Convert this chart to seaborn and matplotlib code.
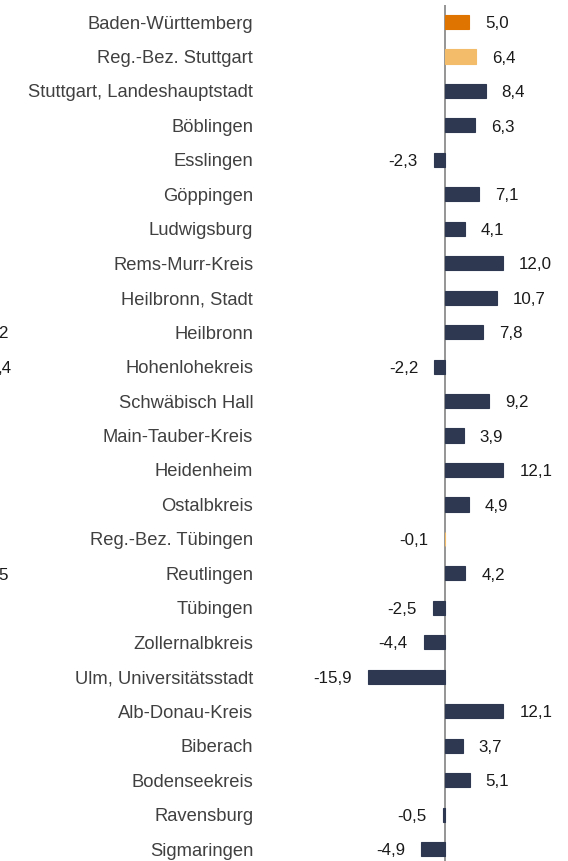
import matplotlib
matplotlib.use("Agg")
import matplotlib.pyplot as plt
import seaborn as sns
import pandas as pd

regions = [
    "Baden-Württemberg", "Reg.-Bez. Stuttgart", "Stuttgart, Landeshauptstadt",
    "Böblingen", "Esslingen", "Göppingen", "Ludwigsburg", "Rems-Murr-Kreis",
    "Heilbronn, Stadt", "Heilbronn", "Hohenlohekreis", "Schwäbisch Hall",
    "Main-Tauber-Kreis", "Heidenheim", "Ostalbkreis", "Reg.-Bez. Tübingen",
    "Reutlingen", "Tübingen", "Zollernalbkreis", "Ulm, Universitätsstadt",
    "Alb-Donau-Kreis", "Biberach", "Bodenseekreis", "Ravensburg", "Sigmaringen",
]
change = [
    5.0, 6.4, 8.4, 6.3, -2.3, 7.1, 4.1, 12.0, 10.7, 7.8, -2.2, 9.2, 3.9,
    12.1, 4.9, -0.1, 4.2, -2.5, -4.4, -15.9, 12.1, 3.7, 5.1, -0.5, -4.9,
]
level = [
    "Land", "Bezirk", "Kreis", "Kreis", "Kreis", "Kreis", "Kreis", "Kreis",
    "Kreis", "Kreis", "Kreis", "Kreis", "Kreis", "Kreis", "Kreis", "Bezirk",
    "Kreis", "Kreis", "Kreis", "Kreis", "Kreis", "Kreis", "Kreis", "Kreis", "Kreis",
]
# tails of value labels from the neighbouring panel, cut at the left edge
edge_fragments = ["2", ",4", "5"]
edge_rows = [9, 10, 16]

level_colors = {"Land": "#E07400", "Bezirk": "#F2BC6A", "Kreis": "#2E3850"}

df = pd.DataFrame({"region": regions, "change": change, "level": level})

sns.set_theme(style="white")
plt.rcParams["font.family"] = ["Liberation Sans", "DejaVu Sans"]

W, H = 568, 861
fig = plt.figure(figsize=(W / 100, H / 100), dpi=100)

px_per_unit = 4.83
zero_px = 445
ax_left_px, ax_right_px = 258, 562
ax = fig.add_axes([ax_left_px / W, 0, (ax_right_px - ax_left_px) / W, 1])

sns.barplot(
    data=df, x="change", y="region", hue="level", palette=level_colors,
    orient="h", width=0.41, legend=False, ax=ax, saturation=1,
)
# outline each bar in its own colour so that very small values stay visible
for p in ax.patches:
    p.set_edgecolor(p.get_facecolor())
    p.set_linewidth(0.8)
    p.set_zorder(4)

n = len(regions)
row_px = 34.46
first_row_px = 22
ax.set_xlim(-(zero_px - ax_left_px) / px_per_unit,
            (ax_right_px - zero_px) / px_per_unit)
ax.set_ylim(n - 1 + (H - (first_row_px + (n - 1) * row_px)) / row_px,
            -first_row_px / row_px)

for s in ax.spines.values():
    s.set_visible(False)
ax.vlines(0, -0.5, ax.get_ylim()[0], color="#8C8C8C", lw=1.3, zorder=3)

ax.set_xlabel("")
ax.set_ylabel("")
ax.set_xticks([])
ax.tick_params(axis="y", length=0, pad=3.5, labelsize=13.2, labelcolor="#404040")

for i, v in enumerate(change):
    ax.annotate(
        f"{v:.1f}".replace(".", ","), xy=(v, i),
        xytext=(11.5 if v >= 0 else -11.5, -1.2), textcoords="offset points",
        ha="left" if v >= 0 else "right", va="center",
        fontsize=12.2, color="#1A1A1A",
    )

# cut-off labels at the left edge
for txt, row, dx in zip(edge_fragments, edge_rows, [-2, -3, -2]):
    ax.annotate(txt, xy=(dx, row), xycoords=("figure pixels", "data"),
                xytext=(0, -1.2), textcoords="offset points",
                ha="left", va="center", fontsize=12.2, color="#1A1A1A",
                annotation_clip=False)

fig.savefig("out.png", dpi=100)
